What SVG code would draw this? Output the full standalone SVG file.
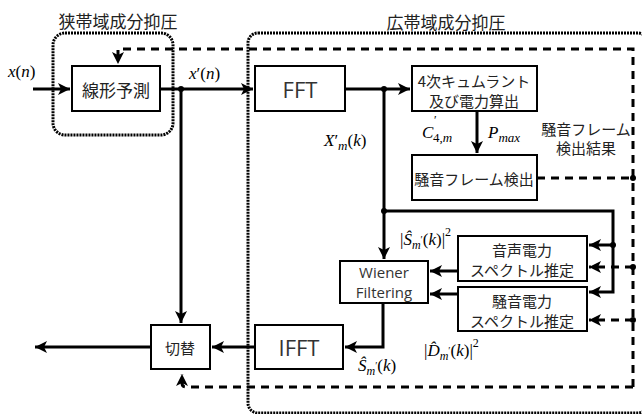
<svg xmlns="http://www.w3.org/2000/svg" width="642" height="414" viewBox="0 0 642 414">
<style>
.box{fill:#fff;stroke:#000;stroke-width:2}
.jp{font-family:"Noto Sans CJK JP","Noto Sans",sans-serif;fill:#222;text-anchor:middle;dominant-baseline:central}
.en{font-family:"Open Sans","Liberation Sans",sans-serif;fill:#333;text-anchor:middle;dominant-baseline:central}
.m{font-family:"Liberation Serif","DejaVu Serif",serif;font-style:italic;fill:#000;font-size:17px}
.ln{fill:none;stroke:#000;stroke-width:3}
.ds{fill:none;stroke:#000;stroke-width:3;stroke-dasharray:8 6}
.dt{fill:none;stroke:#000;stroke-width:3;stroke-dasharray:2 1}
</style>
<defs>
<marker id="ar" markerUnits="userSpaceOnUse" markerWidth="14" markerHeight="14" refX="12" refY="6" orient="auto">
<path d="M0,0 L12,6 L0,12 L3,6 z" fill="#000"/>
</marker>
</defs>
<g id="title-narrow"><text class="jp" x="118" y="20" font-size="17">狭帯域成分抑圧</text></g>
<g id="title-wide"><text class="jp" x="446" y="21" font-size="17">広帯域成分抑圧</text></g>
<g id="group-narrow"><rect class="dt" x="53" y="33" width="120" height="102" rx="12"/></g>
<g id="group-wide"><rect class="dt" x="248" y="33" width="400" height="380" rx="10"/></g>
<g id="connectors">
<path class="ln" d="M33,89 H70" marker-end="url(#ar)"/>
<path class="ln" d="M160,89 H253" marker-end="url(#ar)"/>
<path class="ln" d="M181,89 V323" marker-end="url(#ar)"/>
<path class="ln" d="M345,89 H410" marker-end="url(#ar)"/>
<path class="ln" d="M384,89 V259" marker-end="url(#ar)"/>
<path class="ln" d="M384,211 H613 V292 H589" marker-end="url(#ar)"/>
<path class="ln" d="M613,245 H589" marker-end="url(#ar)"/>
<path class="ln" d="M477,112 V153" marker-end="url(#ar)"/>
<path class="ln" d="M458,271 H430" marker-end="url(#ar)"/>
<path class="ln" d="M458,294 H430" marker-end="url(#ar)"/>
<path class="ln" d="M383,303 V347 H345" marker-end="url(#ar)"/>
<path class="ln" d="M255,347 H212" marker-end="url(#ar)"/>
<path class="ln" d="M151,347 H35" marker-end="url(#ar)"/>
<path class="ds" d="M537,178 H633"/>
<path class="ds" d="M633,387 V49 H118 V64" marker-end="url(#ar)"/>
<path class="ds" d="M633,387 H186 Q182,387 182,383 V374" marker-end="url(#ar)"/>
<path class="ds" d="M633,267 H589" marker-end="url(#ar)"/>
<path class="ds" d="M633,320 H589" marker-end="url(#ar)"/>
<g fill="#000">
<circle cx="181" cy="89" r="3"/>
<circle cx="384" cy="89" r="3"/>
<circle cx="384" cy="211" r="3"/>
<circle cx="613" cy="245" r="3"/>
<circle cx="633" cy="178" r="3"/>
<circle cx="633" cy="267" r="3"/>
<circle cx="633" cy="320" r="3"/>
</g>
</g>
<g id="node-lpc"><rect class="box" x="72" y="66" width="88" height="45"/><text class="jp" x="116" y="89" font-size="17">線形予測</text></g>
<g id="node-fft"><rect class="box" x="255" y="66" width="90" height="45"/><text class="en" x="300" y="89" font-size="22">FFT</text></g>
<g id="node-cumulant"><rect class="box" x="412" y="66" width="125" height="45"/><text class="jp" x="474" y="80" font-size="15">4次キュムラント</text><text class="jp" x="474" y="100" font-size="15">及び電力算出</text></g>
<g id="node-detect"><rect class="box" x="412" y="155" width="125" height="45"/><text class="jp" x="474" y="178" font-size="15">騒音フレーム検出</text></g>
<g id="node-speech"><rect class="box" x="458" y="236" width="129" height="45"/><text class="jp" x="522" y="249" font-size="15">音声電力</text><text class="jp" x="522" y="269" font-size="15">スペクトル推定</text></g>
<g id="node-noise"><rect class="box" x="458" y="287" width="129" height="44"/><text class="jp" x="522" y="300" font-size="15">騒音電力</text><text class="jp" x="522" y="320" font-size="15">スペクトル推定</text></g>
<g id="node-wiener"><rect class="box" x="340" y="261" width="88" height="42"/><text class="en" x="384" y="272" font-size="15">Wiener</text><text class="en" x="384" y="292" font-size="15">Filtering</text></g>
<g id="node-ifft"><rect class="box" x="255" y="325" width="88" height="44"/><text class="en" x="299" y="347" font-size="22">IFFT</text></g>
<g id="node-switch"><rect class="box" x="151" y="325" width="59" height="44"/><text class="jp" x="180" y="347" font-size="15">切替</text></g>
<g id="labels" font-family="'Liberation Serif','DejaVu Serif',serif" font-size="17">
<text x="8" y="77"><tspan font-style="italic">x</tspan>(<tspan font-style="italic">n</tspan>)</text>
<text x="189" y="79"><tspan font-style="italic">x</tspan>′(<tspan font-style="italic">n</tspan>)</text>
<text x="324" y="146"><tspan font-style="italic">X</tspan>′<tspan font-style="italic" font-size="13" dy="4">m</tspan><tspan dy="-4">(</tspan><tspan font-style="italic">k</tspan>)</text>
<text x="422" y="138" font-style="italic">C</text>
<text x="434" y="124" font-size="12">′</text>
<text x="433" y="142" font-size="13">4,<tspan font-style="italic">m</tspan></text>
<text x="488" y="138"><tspan font-style="italic">P</tspan><tspan font-style="italic" font-size="13" dy="4">max</tspan></text>
<text x="400" y="245">|<tspan font-style="italic">Ŝ</tspan><tspan font-style="italic" font-size="12" dy="4">m</tspan><tspan font-size="10" dy="-6">′</tspan><tspan dy="2">(</tspan><tspan font-style="italic">k</tspan>)|<tspan font-size="12" dy="-9">2</tspan></text>
<text x="424" y="356">|<tspan font-style="italic">D̂</tspan><tspan font-style="italic" font-size="12" dy="4">m</tspan><tspan font-size="10" dy="-6">′</tspan><tspan dy="2">(</tspan><tspan font-style="italic">k</tspan>)|<tspan font-size="12" dy="-9">2</tspan></text>
<text x="358" y="371"><tspan font-style="italic">Ŝ</tspan><tspan font-style="italic" font-size="12" dy="4">m</tspan><tspan font-size="10" dy="-6">′</tspan><tspan dy="2">(</tspan><tspan font-style="italic">k</tspan>)</text>
</g>
<g id="labels-jp">
<text class="jp" x="586" y="128" font-size="15">騒音フレーム</text>
<text class="jp" x="586" y="147" font-size="15">検出結果</text>
</g>
</svg>
